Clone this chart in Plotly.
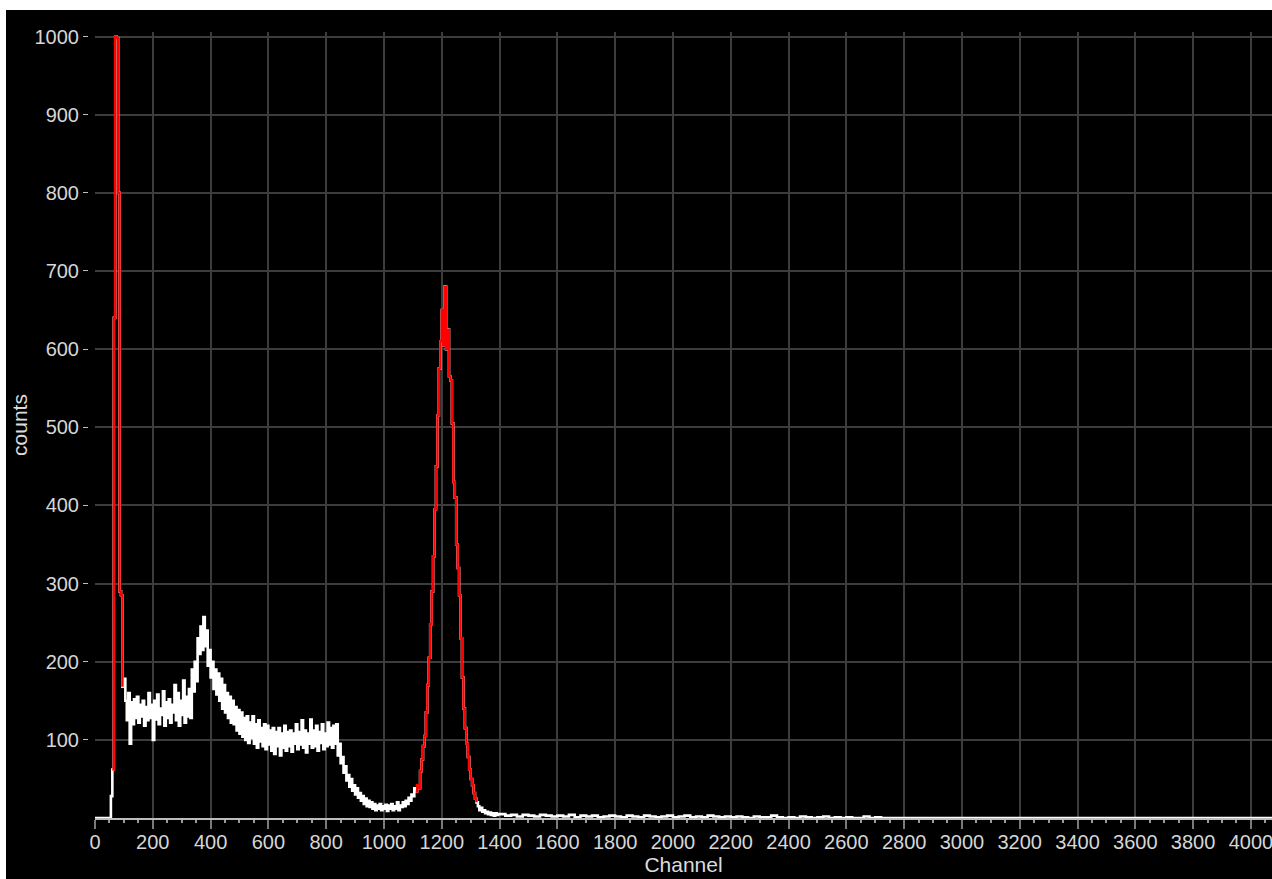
import plotly.graph_objects as go

# ---------------- data ----------------
BIN = 5            # channels per value in the main region
MAIN_START = 0
main_counts = [
    0, 0, 0, 0, 0, 0, 0, 0, 0, 0, 0, 28, 62, 640, 1000, 998, 800, 290, 285, 168,            # 0-95
    178, 150, 125, 160, 95, 148, 120, 152, 128, 155, 122, 145, 130, 150, 118, 142, 125, 160, 128, 145,  # 100-195
    100, 150, 126, 158, 120, 140, 132, 162, 118, 148, 128, 152, 122, 145, 135, 170, 125, 160, 118, 150,  # 200-295
    132, 176, 122, 155, 130, 165, 128, 190, 162, 200, 175, 230, 210, 245, 215, 257, 220, 240, 195, 215,  # 300-395
    180, 200, 165, 190, 158, 185, 150, 178, 140, 170, 135, 160, 128, 155, 122, 150, 120, 142, 112, 138,  # 400-495
    108, 135, 104, 128, 100, 130, 96, 122, 102, 130, 95, 120, 90, 125, 98, 115, 92, 120, 88, 118,        # 500-595
    94, 112, 86, 115, 82, 110, 92, 115, 80, 108, 90, 118, 86, 110, 92, 112, 85, 108, 95, 120,            # 600-695
    88, 110, 94, 125, 90, 112, 84, 108, 95, 126, 90, 112, 92, 118, 86, 110, 96, 120, 88, 108,            # 700-795
    92, 122, 94, 115, 90, 118, 95, 120, 80, 95, 70, 78, 58, 66, 48, 55, 40, 50, 35, 42,                  # 800-895
    30, 38, 26, 32, 22, 28, 18, 25, 15, 22, 14, 20, 12, 18, 10, 16, 12, 18, 10, 15,                      # 900-995
    12, 17, 9, 16, 12, 18, 10, 15, 12, 20, 10, 16, 14, 20, 15, 22, 18, 26, 22, 30,                       # 1000-1095
    28, 38, 34, 42, 38, 60, 75, 92, 105, 135, 170, 205, 248, 290, 335, 395, 450, 515, 575, 610,          # 1100-1195
    650, 605, 680, 600, 625, 565, 560, 505, 430, 410, 350, 320, 285, 230, 180, 140, 115, 95, 78, 62,     # 1200-1295
    50, 42, 32, 25, 20, 15, 10, 13, 8, 10, 6, 8, 5, 7, 4, 6, 3, 6, 4, 5,                                 # 1300-1395
]

TAIL_BIN = 20      # channels per value in the flat tail
TAIL_START = 1400
tail_counts = [
    5, 3, 4, 2, 4, 3, 2, 4, 3, 2, 3, 2, 4, 1, 3, 2, 3, 1, 2, 3,     # 1400-1780
    2, 1, 3, 2, 1, 3, 2, 1, 2, 3, 1, 2, 3, 1, 2, 1, 3, 2, 1, 2,     # 1800-2180
    1, 2, 1, 0, 2, 1, 1, 3, 1, 0, 1, 0, 2, 1, 0, 1, 2, 0, 1, 0,     # 2200-2580
    1, 0, 0, 2, 0, 1, 0, 0, 0, 0, 0, 0, 0, 0, 0, 0, 0, 0, 0, 0,     # 2600-2980
    0, 0, 0, 0, 0, 0, 0, 0, 0, 0, 0, 0, 0, 0, 0, 0, 0, 0, 0, 0,     # 3000-3380
    0, 0, 0, 0, 0, 0, 0, 0, 0, 0, 0, 0, 0, 0, 0, 0, 0, 0, 0, 0,     # 3400-3780
    0, 0, 0, 0, 0, 0, 0, 0, 0, 0, 0, 0, 0, 0, 0,                    # 3800-4080
]

roi_1 = [60, 95]       # regions of interest drawn in red
roi_2 = [1110, 1320]

x_tick_vals = [0, 200, 400, 600, 800, 1000, 1200, 1400, 1600, 1800, 2000,
               2200, 2400, 2600, 2800, 3000, 3200, 3400, 3600, 3800, 4000]
x_tick_text = ["0", "200", "400", "600", "800", "1000", "1200", "1400", "1600", "1800", "2000",
               "2200", "2400", "2600", "2800", "3000", "3200", "3400", "3600", "3800", "4000"]
y_tick_vals = [100, 200, 300, 400, 500, 600, 700, 800, 900, 1000]
y_tick_text = ["100", "200", "300", "400", "500", "600", "700", "800", "900", "1000"]

# ---------------- build ----------------
channels = ([MAIN_START + i * BIN for i in range(len(main_counts))] +
            [TAIL_START + i * TAIL_BIN for i in range(len(tail_counts))])
counts = main_counts + tail_counts


def roi_points(lo, hi):
    xs, ys = [], []
    for c, v in zip(channels, counts):
        if lo <= c <= hi:
            xs.append(c)
            ys.append(v)
    return xs, ys


W, H = 1272, 879
ML, MR, MT, MB = 88, 0, 32, 61
plot_w = W - ML - MR
plot_h = H - MT - MB

fig = go.Figure()
fig.add_trace(go.Scatter(x=channels, y=counts, mode="lines",
                         line=dict(color="#ffffff", width=2.6, shape="hv"),
                         hoverinfo="skip", showlegend=False))
for lo, hi in (roi_1, roi_2):
    rx, ry = roi_points(lo, hi)
    fig.add_trace(go.Scatter(x=rx, y=ry, mode="lines",
                             line=dict(color="#ff0000", width=2.4, shape="hv"),
                             hoverinfo="skip", showlegend=False))

tick_font = dict(family="Arial, Liberation Sans, sans-serif", size=20, color="#d6d6d6")
title_font = dict(family="Arial, Liberation Sans, sans-serif", size=21, color="#dcdcdc")

fig.update_layout(
    width=W, height=H,
    margin=dict(l=ML, r=MR, t=MT, b=MB, pad=0, autoexpand=False),
    paper_bgcolor="#ffffff",
    plot_bgcolor="#000000",
    showlegend=False,
    shapes=[dict(type="rect", xref="paper", yref="paper", layer="below",
                 x0=(6 - ML) / plot_w, x1=1.02,
                 y0=-(MB + 5) / plot_h, y1=1 + (MT - 10) / plot_h,
                 fillcolor="#000000", line=dict(width=0))],
    xaxis=dict(
        domain=[7 / plot_w, 1],
        range=[0, 4073],
        tickmode="array", tickvals=x_tick_vals, ticktext=x_tick_text,
        showgrid=True, gridcolor="#3c3c3c", gridwidth=1.5,
        zeroline=False,
        showline=True, linecolor="#bdbdbd", linewidth=1.5,
        ticks="outside", ticklen=9, tickcolor="#7a7a7a", tickwidth=1.5,
        minor=dict(dtick=50, tick0=0, ticks="outside", ticklen=3,
                   tickcolor="#9a9a9a", showgrid=False),
        tickfont=tick_font,
        ticklabelstandoff=-4,
        ticklabeloverflow="allow",
        title=dict(text="Channel", font=title_font, standoff=6),
        automargin=False,
        fixedrange=True,
    ),
    yaxis=dict(
        anchor="free", position=0,
        range=[0, 1005.8],
        tickmode="array", tickvals=y_tick_vals, ticktext=y_tick_text,
        showgrid=True, gridcolor="#3c3c3c", gridwidth=1.5,
        zeroline=False, showline=False,
        ticks="outside", ticklen=5, tickcolor="#bdbdbd", tickwidth=1,
        tickfont=tick_font,
        title=dict(text="counts", font=title_font, standoff=0),
        automargin=False,
        fixedrange=True,
    ),
)

fig.write_html("out.html", config={"displayModeBar": False},
               post_script="document.body.style.margin='0';document.body.style.overflow='hidden';")
